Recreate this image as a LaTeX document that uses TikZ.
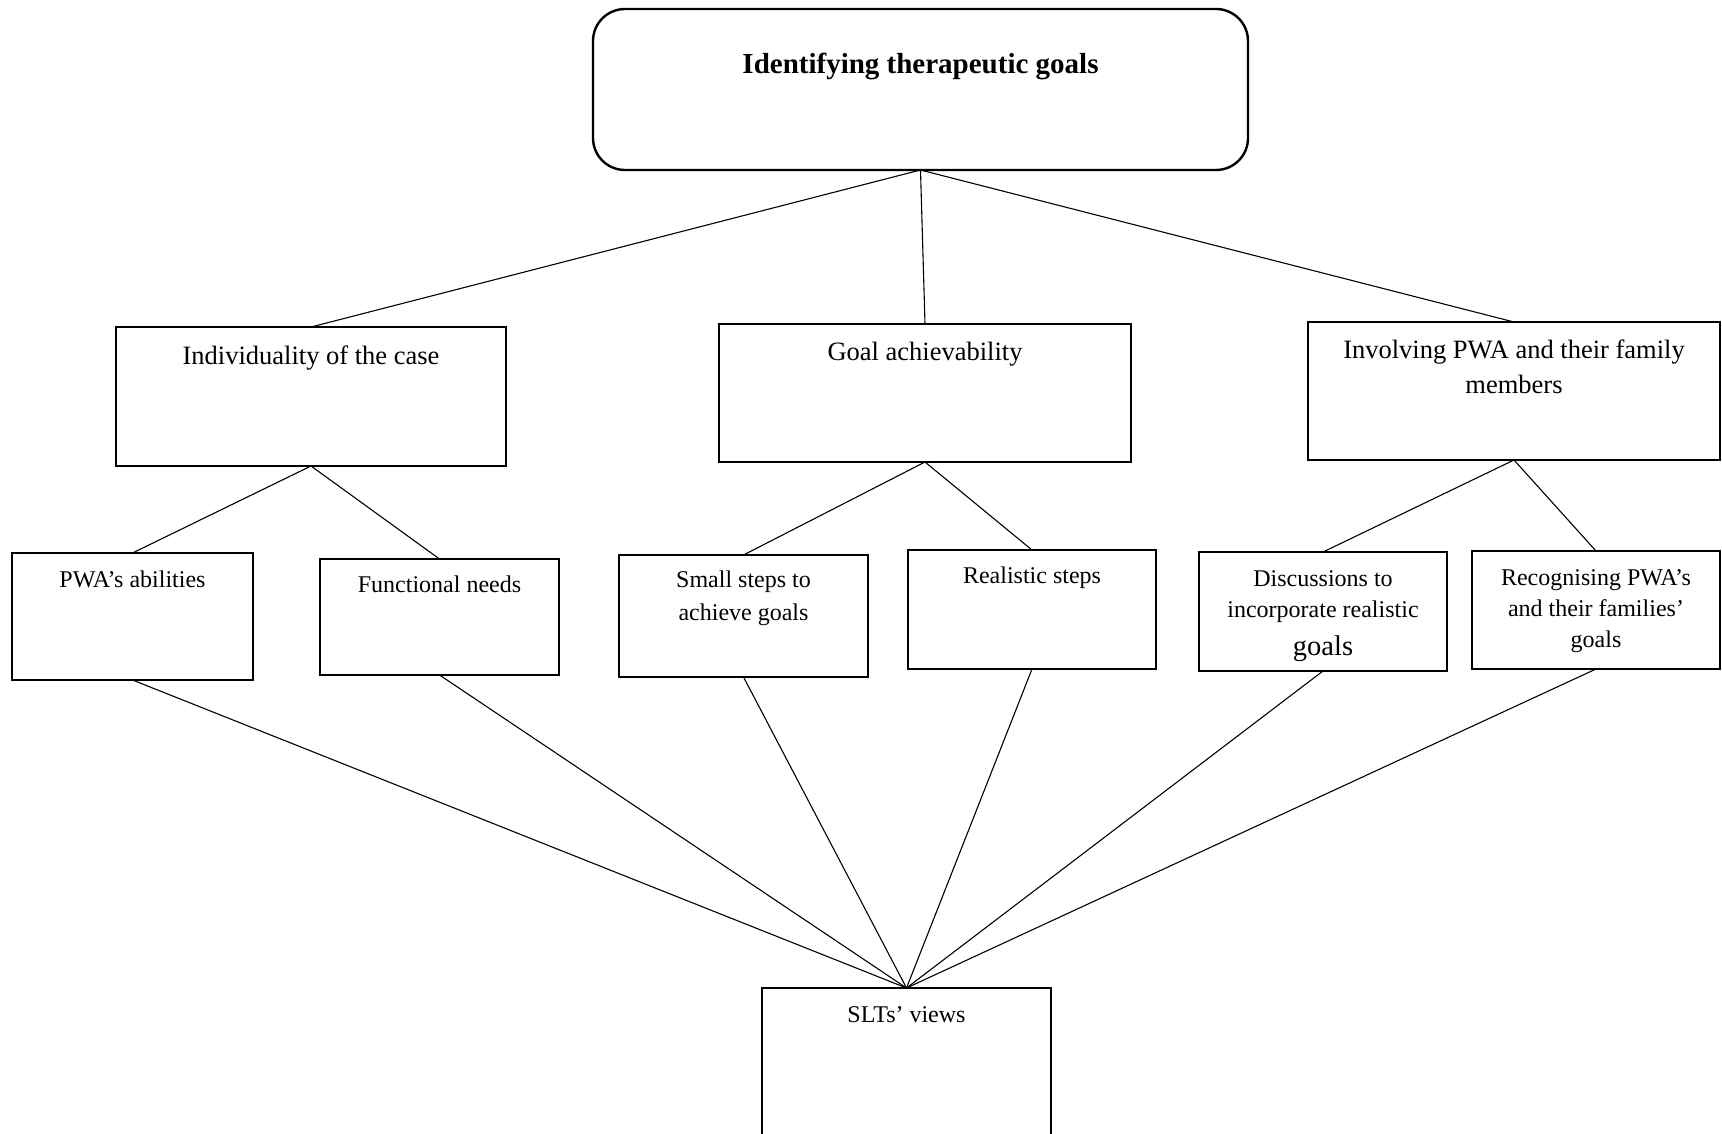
\documentclass[tikz,border=0pt]{standalone}
\usepackage{fontspec}
\setmainfont{Liberation Serif}
\begin{document}
\begin{tikzpicture}[x=1pt,y=-1pt,
  box/.style={draw, line width=2.4pt, inner sep=0pt, outer sep=0pt},
  rbox/.style={box, rounded corners=32pt},
  link/.style={line width=1.1pt},
  titletext/.style={anchor=base, inner sep=0pt, font=\fontsize{29}{35}\selectfont\bfseries},
  midtext/.style={anchor=north, inner sep=0pt, align=center, font=\fontsize{26.5}{35}\selectfont},
  lowtext/.style={anchor=north, inner sep=0pt, align=center, font=\fontsize{24}{31}\selectfont}]
\clip (0,0) rectangle (1722,1134);

% boxes
\node[rbox, minimum width=655pt, minimum height=161pt] (top) at (920.5,89.5) {};
\node[box, minimum width=390pt, minimum height=139pt] (ind) at (311,396.5) {};
\node[box, minimum width=412pt, minimum height=138pt] (ach) at (925,393) {};
\node[box, minimum width=412pt, minimum height=138pt] (inv) at (1514,391) {};
\node[box, minimum width=241pt, minimum height=127pt] (pwa) at (132.5,616.5) {};
\node[box, minimum width=239pt, minimum height=116pt] (fun) at (439.5,617) {};
\node[box, minimum width=249pt, minimum height=122pt] (sml) at (743.5,616) {};
\node[box, minimum width=248pt, minimum height=119pt] (rea) at (1032,609.5) {};
\node[box, minimum width=248pt, minimum height=119pt] (dis) at (1323,611.5) {};
\node[box, minimum width=248pt, minimum height=118pt] (rec) at (1596,610) {};
\node[box, minimum width=289pt, minimum height=170pt] (slt) at (906.5,1073) {};

% labels
\node[titletext] (top-t) at (920.5,74) {Identifying therapeutic goals};
\node[midtext] (ind-t) at (311,364-24.5) {\strut Individuality of the case};
\node[midtext] (ach-t) at (925,360-24.5) {\strut Goal achievability};
\node[midtext] (inv-t) at (1514,358-24.5) {\strut Involving PWA and their family\\members};
\node[lowtext] (pwa-t) at (132.5,587-21.7) {\strut PWA’s abilities};
\node[lowtext] (fun-t) at (439.5,592-21.7) {\strut Functional needs};
\node[lowtext, font=\fontsize{24}{33}\selectfont] (sml-t) at (743.5,587-23.1) {\strut Small steps to\\achieve goals};
\node[lowtext] (rea-t) at (1032,583-21.7) {\strut Realistic steps};
\node[lowtext] (dis-t) at (1323,586-21.7) {\strut Discussions to\\incorporate realistic\\[7pt]{\fontsize{28.5}{34}\selectfont goals}};
\node[lowtext] (rec-t) at (1596,585-21.7) {\strut Recognising PWA’s\\and their families’\\goals};
\node[lowtext] (slt-t) at (906.5,1022-21.7) {\strut SLTs’ views};

% connectors
\draw[link] (top.south) -- (ind.north);
\draw[link] (top.south) -- (ach.north);
\draw[link] (top.south) -- (inv.north);
\draw[link] (ind.south) -- (pwa.north);
\draw[link] (ind.south) -- (fun.north);
\draw[link] (ach.south) -- (sml.north);
\draw[link] (ach.south) -- (rea.north);
\draw[link] (inv.south) -- (dis.north);
\draw[link] (inv.south) -- (rec.north);
\foreach \n in {pwa,fun,sml,rea,dis,rec}
  \draw[link] (\n.south) -- (slt.north);
\end{tikzpicture}
\end{document}
